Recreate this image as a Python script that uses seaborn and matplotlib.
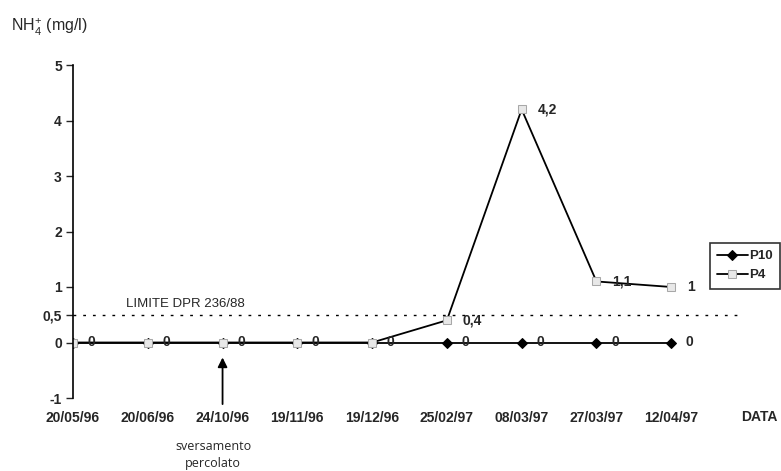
import matplotlib
matplotlib.use("Agg")
import matplotlib.pyplot as plt
import seaborn as sns
import pandas as pd
import numpy as np

dates = ["20/05/96", "20/06/96", "24/10/96", "19/11/96", "19/12/96",
         "25/02/97", "08/03/97", "27/03/97", "12/04/97"]
p10 = [0, 0, 0, 0, 0, 0, 0, 0, 0]
p4 = [0, 0, 0, 0, 0, 0.4, 4.2, 1.1, 1]
limit_value = 0.5
limit_label = "LIMITE DPR 236/88"
yticks = [-1, 0, 0.5, 1, 2, 3, 4, 5]

sns.set_theme(style="white")
plt.rcParams['font.family'] = ['Liberation Sans', 'DejaVu Sans']
plt.rcParams['mathtext.fontset'] = 'custom'
plt.rcParams['mathtext.rm'] = 'Liberation Sans'
plt.rcParams['mathtext.it'] = 'Liberation Sans'
plt.rcParams['mathtext.bf'] = 'Liberation Sans:bold'

fig = plt.figure(figsize=(7.81, 4.71), dpi=100)
ax = fig.add_axes([73/781, 73/471, (740-73)/781, (398-65)/471])

x = np.arange(len(dates))
df10 = pd.DataFrame({"x": x, "y": p10})
df4 = pd.DataFrame({"x": x, "y": p4})

sns.lineplot(data=df10, x="x", y="y", ax=ax, color="black", lw=1.3,
             marker="D", markersize=5, markerfacecolor="black",
             markeredgecolor="black", label="P10", sort=False)
sns.lineplot(data=df4, x="x", y="y", ax=ax, color="black", lw=1.3,
             marker="s", markersize=6, markerfacecolor="#e8e8e8",
             markeredgecolor="#a8a8a8", label="P4", sort=False)

def fmt(v):
    return ("%g" % v).replace(".", ",")

for xi, v in zip(x, p10):
    ax.annotate(fmt(v), (xi, v), xytext=(10.5, 0), textcoords="offset points",
                ha="left", va="center", fontsize=10, fontweight="bold")
for xi, v in zip(x, p4):
    if v != 0:
        ax.annotate(fmt(v), (xi, v), xytext=(11.5, 0), textcoords="offset points",
                    ha="left", va="center", fontsize=10, fontweight="bold")

ax.axhline(limit_value, color="black", lw=1, ls=(0, (2, 5)))
ax.text(0.71, limit_value + 0.2, limit_label, fontsize=9.5, fontweight="normal",
        ha="left", va="center")

ax.set_xlim(0, 8.92)
ax.set_ylim(-1, 5)
ax.set_yticks(yticks)
ax.set_yticklabels([fmt(v) for v in yticks], fontsize=10, fontweight="bold")
ax.set_xticks(x)
ax.set_xticklabels(dates, fontsize=10, fontweight="bold")
ax.tick_params(axis="x", length=0, pad=9)
ax.tick_params(axis="y", length=5, width=1, direction="out", left=True, pad=3)
for s in ["top", "right", "bottom"]:
    ax.spines[s].set_visible(False)
ax.spines["left"].set_color("black")
ax.spines["left"].set_linewidth(1.2)
ax.set_xlabel("")
ax.set_ylabel("")

fig.text(741/781, 1-417/471, "DATA", fontsize=10, fontweight="bold",
         ha="left", va="center")

ax.annotate("", xy=(2, -0.22), xytext=(2, -1.16),
            arrowprops=dict(arrowstyle="-|>", color="black", lw=1.3,
                            mutation_scale=14),
            annotation_clip=False)
fig.text(213/781, 1-455/471, "sversamento\npercolato", ha="center", va="center",
         fontsize=9, fontweight="normal", family=["Open Sans", "DejaVu Sans"],
         linespacing=1.35)

fig.text(11/781, 1-27/471, r"NH$_\mathrm{4}^\mathrm{+}$ (mg/l)", fontsize=11.5,
         fontweight="normal", ha="left", va="center")

leg = ax.legend(loc="upper left", bbox_to_anchor=(710/781, 1-243/471),
                bbox_transform=fig.transFigure, frameon=True, fancybox=False,
                fontsize=9.5, handlelength=2.3, borderpad=0.55, labelspacing=0.5,
                handletextpad=0.1, borderaxespad=0)
leg.get_frame().set_edgecolor("black")
leg.get_frame().set_linewidth(1.2)
for t in leg.get_texts():
    t.set_fontweight("bold")

fig.savefig("out.png", dpi=100)
